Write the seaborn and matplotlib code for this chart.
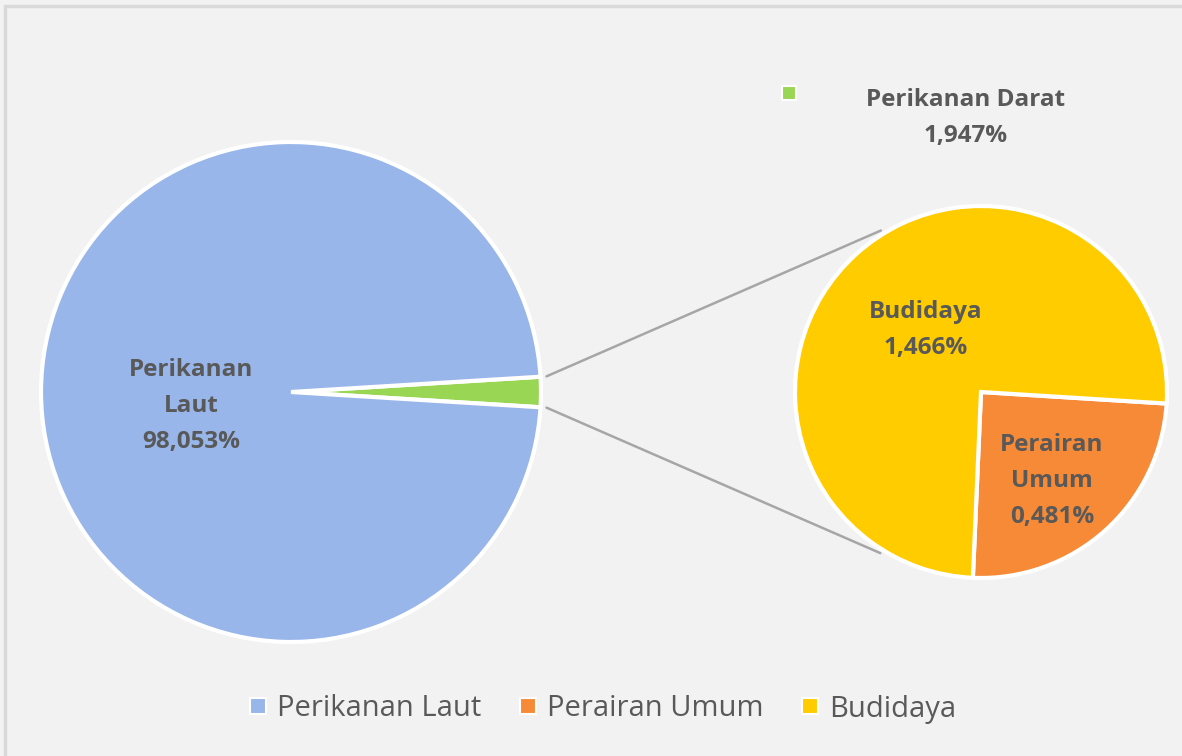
#!/usr/bin/env python3
# Pie-of-pie chart: Perikanan Laut vs Perikanan Darat (Budidaya / Perairan Umum)

import numpy as np
import matplotlib.pyplot as plt
import seaborn as sns
from matplotlib.lines import Line2D
from matplotlib.patches import Rectangle

# ============================================================================
# DATA
# ============================================================================
main_labels = ["Perikanan Darat", "Perikanan Laut"]
main_values = [1.947, 98.053]
sub_labels = ["Perairan Umum", "Budidaya"]
sub_values = [0.481, 1.466]
legend_labels = ["Perikanan Laut", "Perairan Umum", "Budidaya"]

# ============================================================================
# THEME SETTINGS
# ============================================================================
sns.set_theme(style="white")
plt.rcParams['font.family'] = ['Open Sans', 'DejaVu Sans']

colors = {
    'laut': '#98B6EA',
    'darat': '#99D654',
    'umum': '#F68A36',
    'budidaya': '#FFCC00',
    'text': '#595959',
    'bg': '#F2F2F2',
    'line': '#A6A6A6',
}

W, H = 1182, 756
fig = plt.figure(figsize=(W / 100, H / 100), dpi=100, facecolor=colors['bg'])
ax = fig.add_axes([0, 0, 1, 1])
ax.set_facecolor(colors['bg'])

# outer frame
ax.add_patch(Rectangle((5, -20), W + 20, H - 6 + 20, fill=False,
                       edgecolor='#D9D9D9', lw=2.5))

# ============================================================================
# CREATE PLOT
# ============================================================================
c1, r1 = (291, H - 392), 250
c2, r2 = (981, H - 392), 186
wedge_style = dict(edgecolor='white', linewidth=3)

# main pie: small wedge centred on 0 degrees
half = main_values[0] / sum(main_values) * 360 / 2
ax.pie(main_values, colors=[colors['darat'], colors['laut']],
       startangle=-half, counterclock=True, center=c1, radius=r1,
       wedgeprops=wedge_style, frame=True)

# secondary pie
ax.pie(sub_values, colors=[colors['umum'], colors['budidaya']],
       startangle=-92.5, counterclock=True, center=c2, radius=r2,
       wedgeprops=wedge_style, frame=True)
ax.set_xlim(0, W)
ax.set_ylim(0, H)
ax.set_aspect('equal')
ax.axis('off')

# connector lines
for sgn, a2 in [(1, 121.8), (-1, -122.0)]:
    a1 = np.deg2rad(sgn * half)
    p1 = (c1[0] + (r1 + 6) * np.cos(a1), c1[1] + (r1 + 6) * np.sin(a1))
    b = np.deg2rad(a2)
    p2 = (c2[0] + (r2 + 4) * np.cos(b), c2[1] + (r2 + 4) * np.sin(b))
    ax.plot([p1[0], p2[0]], [p1[1], p2[1]], color=colors['line'], lw=1.8,
            zorder=0)

# data labels
lab = dict(ha='center', va='center', fontsize=17.5, fontweight='bold',
           color=colors['text'], linespacing=1.65)
ax.text(191, H - 406, f"Perikanan\nLaut\n{main_values[1]:.3f}%".replace('.', ','), **lab)
ax.text(926, H - 330, f"{sub_labels[1]}\n{sub_values[1]:.3f}%".replace('.', ','), **lab)
ax.text(1052, H - 481, f"Perairan\nUmum\n{sub_values[0]:.3f}%".replace('.', ','), **lab)
ax.text(966, H - 118, f"{main_labels[0]}\n{main_values[0]:.3f}%".replace('.', ','), **lab)
ax.plot([789], [H - 93], marker='s', markersize=10, color=colors['darat'],
        markeredgecolor='white', markeredgewidth=1.5)

# legend
handles = [Line2D([], [], marker='s', linestyle='none', markersize=11,
                  markerfacecolor=c, markeredgecolor='white', markeredgewidth=1.5)
           for c in [colors['laut'], colors['umum'], colors['budidaya']]]
leg = ax.legend(handles, legend_labels, loc='center', bbox_to_anchor=(603 / W, 1 - 709 / H),
                ncol=3, frameon=False, fontsize=21, handlelength=0.6,
                handletextpad=0.35, columnspacing=1.3, labelcolor=colors['text'])

# ============================================================================
# SAVE OUTPUT
# ============================================================================
fig.savefig("out.png", dpi=100, facecolor=colors['bg'])
plt.close()
